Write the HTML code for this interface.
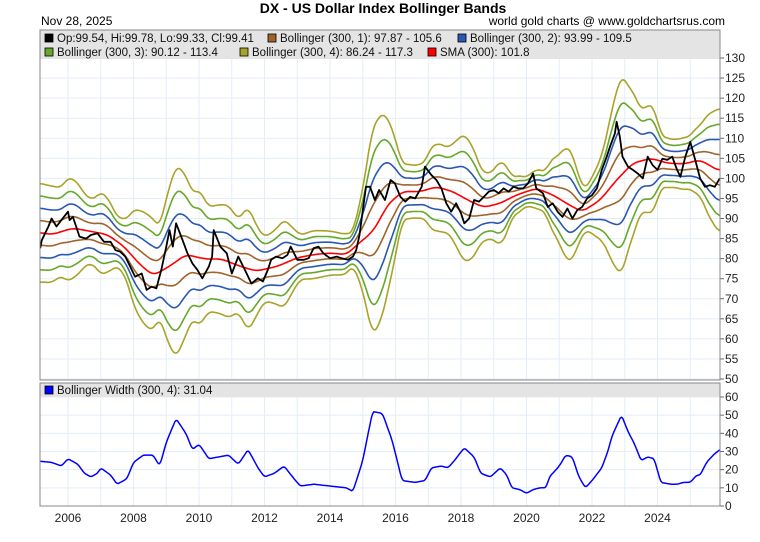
<!DOCTYPE html>
<html><head><meta charset="utf-8"><style>
body{margin:0;background:#fff}
svg{display:block;font-family:"Liberation Sans",Arial,sans-serif}
</style></head><body>
<svg id="c" width="760" height="542" viewBox="0 0 760 542">
<text x="383" y="13" text-anchor="middle" font-size="14" font-weight="bold">DX  -  US Dollar Index Bollinger Bands</text>
<text x="41" y="25" font-size="12">Nov 28, 2025</text>
<text x="725" y="25" font-size="12" text-anchor="end">world gold charts @ www.goldchartsrus.com</text>
<defs>
<clipPath id="mainClip"><rect x="40" y="30" width="680" height="350"/></clipPath>
<clipPath id="lowClip"><rect x="40" y="383" width="680" height="123"/></clipPath>
</defs>
<g id="mainGrid"></g>
<g id="lowGrid"></g>
<g id="mainSeries" clip-path="url(#mainClip)"></g>
<g id="lowSeries" clip-path="url(#lowClip)"></g>
<g id="legend"></g>
<g id="axes"></g>
</svg>
<script>
const priceYears=[2005.15,2005.2,2005.4,2005.5,2005.65,2005.8,2006.0,2006.05,2006.15,2006.35,2006.55,2006.7,2006.9,2007.1,2007.3,2007.45,2007.6,2007.75,2007.9,2008.05,2008.25,2008.4,2008.55,2008.7,2008.85,2009.0,2009.1,2009.2,2009.3,2009.5,2009.65,2009.8,2009.95,2010.1,2010.3,2010.4,2010.45,2010.65,2010.85,2011.0,2011.2,2011.4,2011.6,2011.8,2011.95,2012.1,2012.2,2012.35,2012.55,2012.7,2012.8,2013.0,2013.2,2013.35,2013.5,2013.65,2013.8,2014.0,2014.2,2014.35,2014.55,2014.7,2014.8,2014.9,2015.0,2015.1,2015.22,2015.37,2015.5,2015.68,2015.85,2015.98,2016.15,2016.3,2016.45,2016.6,2016.8,2016.9,2017.1,2017.25,2017.4,2017.55,2017.7,2017.85,2018.0,2018.1,2018.25,2018.4,2018.55,2018.7,2018.85,2019.0,2019.15,2019.3,2019.45,2019.6,2019.75,2019.9,2020.05,2020.2,2020.3,2020.5,2020.65,2020.8,2020.95,2021.1,2021.25,2021.4,2021.55,2021.7,2021.85,2022.0,2022.15,2022.3,2022.45,2022.55,2022.7,2022.75,2022.85,2022.93,2023.1,2023.25,2023.4,2023.55,2023.7,2023.85,2024.0,2024.15,2024.3,2024.45,2024.6,2024.7,2024.85,2025.0,2025.15,2025.3,2025.45,2025.6,2025.75,2025.9];
const priceValues=[82.6,84.6,88.0,90.0,88.0,89.6,91.7,89.6,90.4,85.5,85.0,85.9,86.3,84.2,84.2,82.1,81.7,80.5,78.0,75.5,76.3,72.2,73.0,72.6,77.2,83.0,87.1,83.0,88.8,84.6,81.3,78.8,77.2,75.1,78.0,80.5,87.1,83.0,81.3,76.3,80.5,77.2,73.8,75.1,74.3,77.2,79.7,80.5,80.1,80.9,83.0,79.7,79.7,80.1,82.6,83.0,81.3,80.1,80.5,80.1,79.7,80.5,82.1,85.9,92.1,97.9,97.9,94.6,97.1,94.6,99.6,98.8,95.4,94.2,95.4,95.0,97.9,102.9,100.8,99.6,97.5,93.8,91.7,93.8,91.3,88.8,90.0,94.6,94.2,95.4,96.7,97.1,96.3,97.5,96.7,97.9,97.5,97.5,98.8,101.2,97.5,96.3,92.9,93.8,91.7,90.4,92.5,90.0,92.1,92.9,95.0,95.8,97.5,102.1,105.4,107.9,111.2,114.1,110.4,105.4,102.9,102.1,101.2,100.0,105.4,103.3,102.1,104.9,104.6,105.4,102.1,100.4,105.4,109.1,104.6,100.0,97.9,98.3,97.9,100.0];
const smaYears=[2005.15,2005.5,2006.15,2006.7,2007.2,2007.7,2008.2,2008.6,2009.1,2009.6,2010.2,2010.7,2011.25,2011.75,2012.4,2013.0,2013.5,2014.0,2014.5,2015.0,2015.22,2015.53,2015.7,2016.2,2016.75,2017.25,2017.75,2018.3,2018.7,2019.2,2019.7,2020.3,2020.8,2021.3,2021.7,2022.25,2022.75,2023.25,2023.8,2024.3,2024.8,2025.3,2025.9];
const smaValues=[86.5,86.0,87.6,86.8,86.0,83.1,78.5,75.8,78.1,81.0,79.9,79.9,78.1,76.9,78.1,80.2,81.0,81.4,81.0,84.7,86.0,89.6,92.9,96.7,96.7,97.9,96.7,94.2,92.8,93.8,95.9,97.5,95.9,93.4,91.7,94.6,99.6,103.8,105.0,103.8,103.6,104.6,101.8];
const widthYears=[2005.15,2005.5,2005.8,2006.0,2006.3,2006.5,2006.7,2006.9,2007.0,2007.3,2007.5,2007.8,2008.0,2008.3,2008.6,2008.8,2009.0,2009.3,2009.6,2009.8,2010.0,2010.3,2010.6,2010.9,2011.2,2011.5,2011.8,2012.0,2012.3,2012.6,2012.9,2013.1,2013.5,2014.0,2014.5,2014.7,2015.0,2015.3,2015.6,2015.9,2016.2,2016.6,2016.9,2017.1,2017.4,2017.6,2017.8,2018.1,2018.4,2018.6,2018.9,2019.2,2019.4,2019.55,2019.8,2020.0,2020.2,2020.4,2020.6,2020.7,2021.0,2021.2,2021.4,2021.6,2021.8,2022.0,2022.3,2022.5,2022.6,2022.9,2023.1,2023.3,2023.5,2023.7,2023.9,2024.1,2024.4,2024.6,2024.8,2025.0,2025.2,2025.3,2025.5,2025.7,2025.9];
const widthValues=[24.6,24,22,26,23,18,16,18,21,17,12,15,24,28,28,22,35,48,40,31,34,26,27,28,23,31,21,16,18,22,15,11,12,11,10,8,25,52,51,36,14,13,14,21,22,21,25,32,27,18,16,21,17,10,9,7,9,10,10,16,22,28,27,16,10,14,21,31,38,50,41,34,25,27,26,13,12,12,13,13,17,17,24,28,31];
const mainTicks=[50,55,60,65,70,75,80,85,90,95,100,105,110,115,120,125,130];
const lowTicks=[0,10,20,30,40,50,60];
const yearLabels=[2006,2008,2010,2012,2014,2016,2018,2020,2022,2024];
const bandKs=[1,2,3,4];

const NS="http://www.w3.org/2000/svg";
const X0=40,X1=720;
const xS=y=>68+(y-2006)*32.75;
const yM=v=>379-(v-50)*4.0125;
const yL=v=>506-v*1.817;
function mk(t,a,p){const e=document.createElementNS(NS,t);for(const k in a)e.setAttribute(k,a[k]);p.appendChild(e);return e;}
function interp(xs,vs,x){if(x<=xs[0])return vs[0];for(let i=1;i<xs.length;i++){if(x<=xs[i]){const t=(x-xs[i-1])/(xs[i]-xs[i-1]);return vs[i-1]+t*(vs[i]-vs[i-1]);}}return vs[vs.length-1];}
function smooth(arr,h){return arr.map((_,i)=>{let s=0,n=0;for(let j=i-h;j<=i+h;j++){if(j>=0&&j<arr.length){s+=arr[j];n++;}}return s/n;});}
const mainGrid=document.getElementById('mainGrid'),lowGrid=document.getElementById('lowGrid'),axes=document.getElementById('axes');
const ms=document.getElementById('mainSeries'),ls=document.getElementById('lowSeries'),lg=document.getElementById('legend');
let r=mk('rect',{x:40,y:30,width:680,height:350,fill:'#fff'},mainGrid);

for(let yr=2006;yr<=2025;yr++){
  let l=mk('line',{x1:xS(yr),x2:xS(yr),y1:30,y2:380,stroke:'#e3eef8','stroke-width':1},mainGrid);
  
  let l2=mk('line',{x1:xS(yr),x2:xS(yr),y1:383,y2:506,stroke:'#e3eef8','stroke-width':1},lowGrid);
  
}
mainTicks.forEach(v=>{
  let l=mk('line',{x1:X0,x2:X1,y1:yM(v),y2:yM(v),stroke:'#e3eef8'},mainGrid);
  
  let t=mk('line',{x1:X1,x2:X1+4,y1:yM(v),y2:yM(v),stroke:'#666'},axes);
  
  let tx=mk('text',{x:725,y:yM(v)+4,'font-size':12,fill:'#222'},axes);tx.textContent=v;
  
});
lowTicks.forEach(v=>{
  let l=mk('line',{x1:X0,x2:X1,y1:yL(v),y2:yL(v),stroke:'#e3eef8'},lowGrid);
  
  let t=mk('line',{x1:X1,x2:X1+4,y1:yL(v),y2:yL(v),stroke:'#666'},axes);
  
  let tx=mk('text',{x:725,y:yL(v)+4,'font-size':12,fill:'#222'},axes);tx.textContent=v;
  
});
yearLabels.forEach(y=>{
  let tx=mk('text',{x:xS(y),y:522,'font-size':12,'text-anchor':'middle',fill:'#222'},axes);tx.textContent=y;
  
});
const cols={1:'#a0642a',2:'#2a58b0',3:'#66a82a',4:'#a8a42a'};
const steps=[];for(let y=2005.1;y<=2025.95;y+=0.04)steps.push(y);
const smaS=smooth(steps.map(y=>interp(smaYears,smaValues,y)),4);
const widS=smooth(steps.map(y=>interp(widthYears,widthValues,y)),3);
bandKs.slice().reverse().forEach(k=>{
  [1,-1].forEach(s=>{
    const pts=steps.map((y,i)=>xS(y).toFixed(1)+','+yM(smaS[i]+s*k*widS[i]/8).toFixed(1)).join(' ');
    let p=mk('polyline',{points:pts,fill:'none',stroke:cols[k],'stroke-width':1.6},ms);
    
  });
});
let sma=mk('polyline',{points:steps.map((y,i)=>xS(y).toFixed(1)+','+yM(smaS[i]).toFixed(1)).join(' '),fill:'none',stroke:'#f00','stroke-width':1.6},ms);

let pr=mk('polyline',{points:priceYears.map((y,i)=>xS(y).toFixed(1)+','+yM(priceValues[i]).toFixed(1)).join(' '),fill:'none',stroke:'#000','stroke-width':1.8,'stroke-linejoin':'round'},ms);

const wS=smooth(steps.map(y=>interp(widthYears,widthValues,y)),1);
let wl=mk('polyline',{points:steps.map((y,i)=>xS(y).toFixed(1)+','+yL(wS[i]).toFixed(1)).join(' '),fill:'none',stroke:'#00f','stroke-width':1.5,'stroke-linejoin':'round'},ls);

let lb=mk('rect',{x:40,y:30,width:680,height:29,fill:'#e4e4e4'},lg);

let lb2=mk('rect',{x:40,y:383,width:680,height:14,fill:'#e4e4e4'},lg);

const items=[[45,38,'#000','Op:99.54, Hi:99.78, Lo:99.33, Cl:99.41'],[268,38,cols[1],'Bollinger (300, 1): 97.87 - 105.6'],[458,38,cols[2],'Bollinger (300, 2): 93.99 - 109.5'],[45,52,cols[3],'Bollinger (300, 3): 90.12 - 113.4'],[240,52,cols[4],'Bollinger (300, 4): 86.24 - 117.3'],[428,52,'#f00','SMA (300): 101.8'],[45,390,'#00f','Bollinger Width (300, 4): 31.04']];
items.forEach(it=>{
  let s=mk('rect',{x:it[0],y:it[1]-4,width:8,height:8,fill:it[2],stroke:'#000','stroke-width':0.8},lg);
  
  let t=mk('text',{x:it[0]+12,y:it[1]+4,'font-size':11.5,fill:'#111'},lg);t.textContent=it[3];
  
});
let f1=mk('rect',{x:40,y:30,width:680,height:350,fill:'none',stroke:'#888'},axes);

let f2=mk('rect',{x:40,y:383,width:680,height:123,fill:'none',stroke:'#888'},axes);

</script>
</body></html>
